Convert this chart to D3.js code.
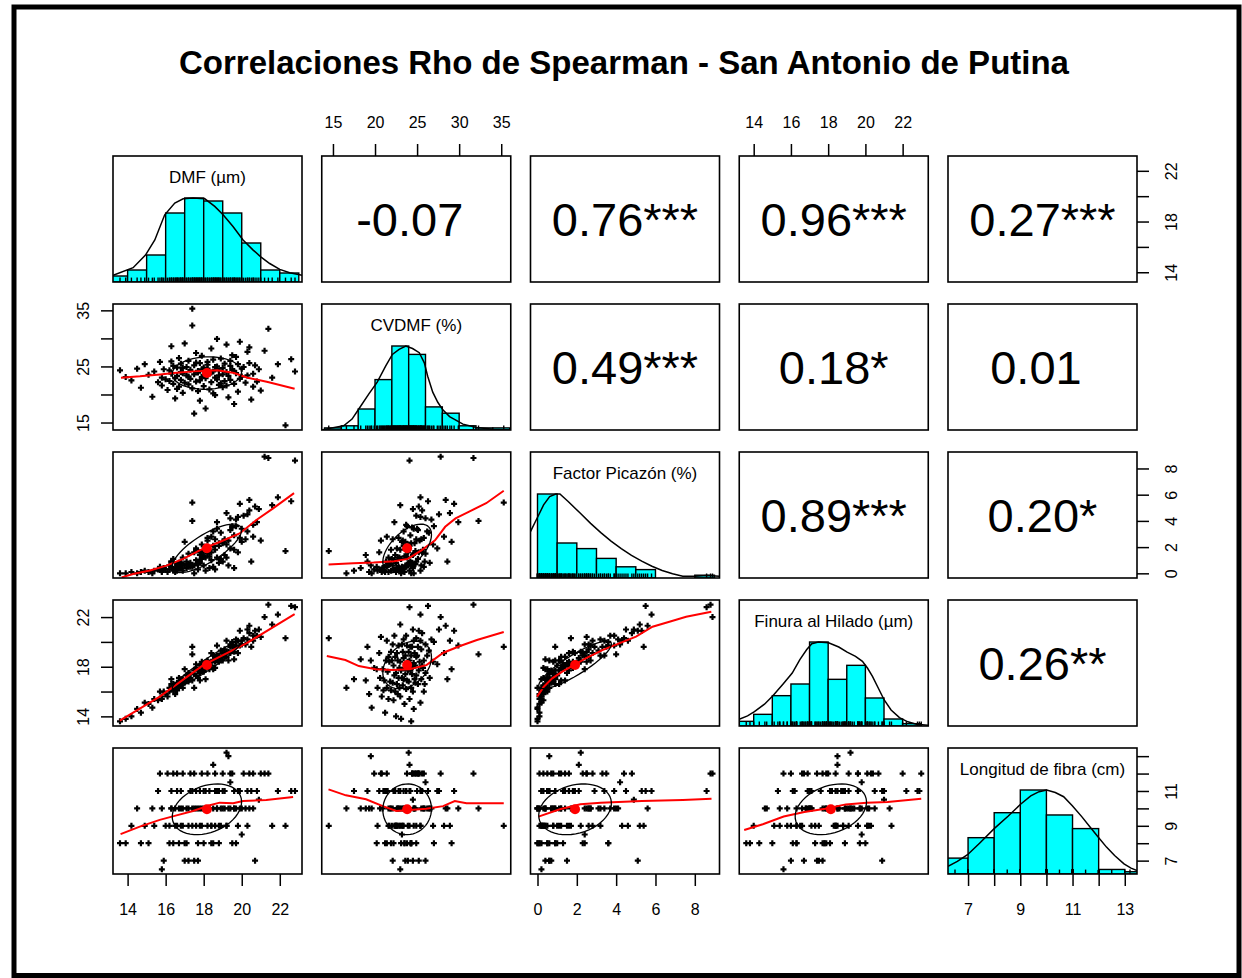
<!DOCTYPE html>
<html>
<head>
<meta charset="utf-8">
<script src="https://cdn.jsdelivr.net/npm/d3@7"></script>
<style>
  body { margin: 0; background: #fff; }
  svg text { font-family: "Liberation Sans", Arial, sans-serif; fill: #000; }
</style>
</head>
<body>
<svg id="chart" width="1242" height="978"></svg>
<script>
// ---- data ----
var varNames = ["DMF (\u00b5m)", "CVDMF (%)", "Factor Picaz\u00f3n (%)", "Finura al Hilado (\u00b5m)", "Longitud de fibra (cm)"];

var dmf = [13.6,13.9,14.2,14.5,14.7,14.9,15.1,15.3,15.4,15.6,15.7,15.8,15.8,15.9,16.0,16.1,16.2,16.2,16.3,16.3,
  16.4,16.4,16.5,16.5,16.6,16.6,16.7,16.7,16.8,16.8,16.8,16.9,16.9,16.9,17.0,17.0,16.3,16.6,17.1,17.1,
  17.2,17.2,17.3,17.3,17.4,17.4,17.5,17.5,17.5,17.6,17.6,17.7,17.7,17.7,17.8,17.8,17.8,17.9,17.9,17.9,
  18.0,18.0,18.0,17.4,17.6,17.2,18.1,18.1,18.2,18.2,18.3,18.3,18.4,18.4,18.5,18.5,18.6,18.6,18.6,18.7,
  18.7,18.7,18.8,18.8,18.8,18.9,18.9,19.0,19.0,19.0,18.2,18.4,18.5,19.1,19.1,19.2,19.2,19.3,19.3,19.4,
  19.4,19.5,19.5,19.6,19.6,19.7,19.7,19.8,19.8,19.9,19.9,20.0,20.0,19.2,19.4,19.6,20.1,20.2,20.3,20.3,
  20.4,20.4,20.5,20.6,20.6,20.7,20.8,20.9,21.0,21.2,21.4,21.6,21.9,22.3,22.6,22.8];

var cvdmf = [24.3,23.1,22.5,24.6,21.2,25.4,23.5,19.6,24.1,22.2,25.8,23.0,21.6,24.5,22.7,20.8,24.3,22.4,28.6,23.7,
  21.9,25.1,22.9,19.3,24.8,23.3,26.5,21.4,24.0,22.6,25.5,20.3,23.8,24.7,22.1,29.1,25.9,21.0,23.4,24.9,
  26.0,21.8,22.8,24.4,35.3,32.3,16.6,23.6,25.2,22.3,27.4,24.2,20.6,23.9,25.6,22.5,18.9,24.5,23.1,26.9,
  21.5,24.8,23.5,21.1,25.7,23.2,22.9,17.5,24.6,25.3,20.9,23.7,28.2,22.2,24.1,26.2,23.0,19.9,24.9,22.7,
  25.0,29.9,21.7,24.3,23.4,26.4,22.0,24.7,23.6,21.3,25.8,23.9,20.2,25.5,22.4,24.0,28.9,23.3,19.5,25.1,
  22.6,24.4,27.0,21.9,24.2,23.8,26.7,20.5,25.4,22.8,29.4,23.2,24.6,21.6,26.0,18.3,24.9,22.1,27.6,23.4,
  28.4,25.6,19.1,23.7,21.4,25.2,22.3,24.5,20.7,27.8,31.7,23.0,25.4,14.5,26.3,24.1];

var factor = [0.0,0.0,0.1,0.0,0.1,0.2,0.1,0.0,0.2,0.3,0.5,0.2,0.1,0.4,0.3,0.1,0.6,0.3,0.9,0.5,
  0.2,1.1,0.4,0.1,0.7,0.3,0.8,0.5,0.8,0.4,0.6,0.2,1.2,0.7,0.6,2.4,0.9,0.2,0.4,0.9,
  1.5,0.7,0.5,0.8,5.4,4.0,0.0,0.6,1.6,1.0,1.9,0.9,0.3,0.7,1.6,0.8,1.4,1.4,1.1,2.2,
  0.6,1.7,1.3,0.5,1.8,0.5,1.2,0.2,1.5,2.5,0.4,1.3,2.8,1.0,2.1,3.2,1.8,0.3,2.6,1.2,
  3.4,3.9,0.8,2.3,2.1,3.1,1.1,2.3,2.4,0.9,2.7,1.6,0.5,2.6,1.4,2.2,4.6,2.5,0.6,3.3,
  1.9,3.5,3.6,1.8,2.9,3.6,4.1,1.6,4.3,2.7,5.3,2.4,3.4,1.2,4.2,0.4,4.4,2.6,4.5,3.2,
  5.6,4.8,0.9,3.7,2.8,5.1,3.9,4.9,2.5,8.9,8.8,5.2,5.8,1.7,5.5,8.6];

var finura = [13.6,13.8,14.0,14.6,14.3,15.1,15.0,14.7,15.4,15.3,16.0,15.6,15.4,16.0,15.8,15.6,16.3,16.0,17.0,16.2,
  16.1,16.6,16.3,15.8,16.7,16.5,17.1,16.3,16.8,16.6,17.0,16.3,16.9,17.0,16.7,17.8,16.6,16.1,17.0,17.3,
  17.5,16.8,17.1,17.4,19.6,19.0,16.3,17.4,17.7,17.3,18.2,17.7,17.1,17.7,18.1,17.5,16.9,18.0,17.7,18.4,
  17.6,18.1,17.9,16.9,17.9,17.1,17.9,17.0,18.3,18.4,17.8,18.2,19.1,18.1,18.5,18.9,18.4,17.9,18.8,18.5,
  18.9,19.7,18.4,18.9,18.7,19.3,18.5,19.1,18.9,18.5,18.5,18.4,17.8,19.4,18.8,19.2,20.1,19.2,18.5,19.6,
  19.1,19.6,20.0,19.2,19.6,19.7,20.2,19.1,20.1,19.7,20.9,19.8,20.1,18.8,19.8,18.6,20.3,19.8,21.0,20.2,
  21.3,20.7,19.6,20.5,20.1,20.9,20.5,21.0,20.4,22.0,23.0,21.4,22.2,20.3,22.9,22.8];

var longitud = [8,8,9,10,8,9,8,10,9,11,12,6.5,10,7,9,12,8,9,10,11,
  8,12,9,10,12,9,10,8,10,9,11,9,12,10,7,8,10,11,10,8,
  7,10,11,12,9,10,10,7,12,9,11,8,10,7,11,9,10,12,10,9,
  11,10,8,11,10,9,10,11,9,12,10,11,9,8,12.5,10,11,12,9,10,
  11,10,9,8,11,10,9,12,10,11,10,9,8,10,11,13.2,9,10,13,12,
  10,12,8,10,11,8,10,11,9,10,11,8.5,10,9,11.5,10,12,10,11,9,
  10,12,11,10,12,7,11,10.5,12,12,12,9,11,9,11,11];

// histogram bins (breaks) and counts
var dmfBreaks = [13,14,15,16,17,18,19,20,21,22,23];
var dmfCounts = [2,4,9,23,28,27,23,13,4,3];
var cvBreaks = [14,16,18,20,22,24,26,28,30,32,34,36];
var cvCounts = [1,2,10,24,40,36,11,8,2,1,1];
var factorBreaks = [0,1,2,3,4,5,6,7,8,9];
var factorCounts = [60,25,21,14,8,6,0,0,2];
var finuraBreaks = [13,14,15,16,17,18,19,20,21,22,23];
var finuraCounts = [2,5,13,18,36,20,26,12,3,1];
var longBreaks = [6,7,8,9,10,11,12,13,14];
var longCounts = [7,16,27,37,26,20,2,1];

// density curves, [value, height relative to max]
var densDmf = [[13.24,0.08],[14.29,0.17],[14.94,0.32],[15.43,0.50],[15.95,0.80],[16.48,0.94],[16.92,0.99],[17.44,1.00],
  [18.06,0.99],[18.58,0.90],[19.02,0.80],[19.54,0.66],[20.07,0.50],[20.60,0.38],[21.00,0.30],[21.47,0.22],[22.00,0.15],
  [22.52,0.11],[22.98,0.09],[23.17,0.08]];
var densCv = [[13.7,0.0],[14.07,0.01],[16.27,0.05],[17.27,0.13],[18.07,0.25],[19.27,0.43],[20.26,0.57],[21.26,0.76],[22.06,0.90],
  [22.86,0.96],[23.66,1.0],[24.46,0.97],[25.26,0.92],[25.86,0.80],[26.26,0.64],[26.86,0.45],[27.46,0.33],[28.06,0.24],
  [28.86,0.16],[30.45,0.07],[32.05,0.03],[34.05,0.01],[36.05,0.0]];
var densFactor = [[-0.36,0.55],[-0.32,0.57],[-0.11,0.67],[0.06,0.75],[0.31,0.87],[0.62,0.97],[0.93,1.00],[1.14,1.00],[1.56,0.91],
  [2.18,0.77],[2.70,0.65],[3.22,0.54],[3.74,0.44],[4.26,0.35],[4.78,0.27],[5.30,0.20],[5.82,0.14],[6.34,0.09],[6.87,0.05],
  [7.39,0.02],[8.01,0.02],[8.64,0.03],[9.26,0.02]];
var densFinura = [[13.22,0.08],[13.67,0.12],[14.04,0.17],[14.58,0.26],[15.03,0.36],[15.58,0.50],[16.07,0.63],[16.48,0.79],
  [16.85,0.91],[17.12,0.98],[17.48,1.00],[18.02,0.99],[18.57,0.94],[19.02,0.88],[19.47,0.83],[19.84,0.77],[20.11,0.69],
  [20.38,0.59],[20.65,0.47],[21.01,0.31],[21.38,0.19],[21.83,0.10],[22.28,0.05],[22.74,0.02],[23.37,0.01]];
var densLong = [[6.23,0.09],[6.59,0.15],[6.98,0.23],[7.45,0.37],[8.00,0.54],[8.54,0.69],[9.01,0.83],[9.40,0.93],[9.72,0.98],
  [10.01,1.00],[10.34,0.97],[10.66,0.92],[11.00,0.81],[11.36,0.68],[11.67,0.56],[11.98,0.44],[12.30,0.32],[12.61,0.22],
  [12.97,0.12],[13.24,0.07],[13.47,0.04]];

// red smoother lines, [x, y] in data units
var lowCvDmf = [[13.65,22.99],[14.65,23.23],[15.71,23.58],[16.42,23.82],[17.48,24.12],[18.72,24.30],[19.60,23.82],[20.31,22.99],[21.37,22.21],[22.78,21.02]];
var lowFpDmf = [[13.68,-0.31],[14.29,-0.05],[15.17,0.21],[16.04,0.59],[16.92,1.10],[17.97,1.88],[18.84,2.39],[19.89,3.04],[20.77,4.07],[21.65,4.96],[22.75,6.12]];
var lowFpCv = [[14.48,0.67],[17.40,0.77],[19.83,0.82],[22.27,0.93],[23.89,1.10],[25.51,1.75],[27.13,2.52],[28.34,3.55],[29.57,4.19],[31.19,4.71],[33.21,5.35],[35.3,6.3]];
var lowFhDmf = [[13.59,13.65],[15.69,15.59],[17.97,18.13],[20.24,19.88],[22.78,22.24]];
var lowFhCv = [[14.27,18.86],[16.48,18.54],[18.08,18.05],[20.09,17.79],[22.09,17.73],[24.09,17.79],[26.11,18.13],[28.11,19.13],[30.11,19.67],[32.11,20.15],[35.3,20.8]];
var lowFhFp = [[-0.02,15.59],[0.32,16.39],[0.75,17.06],[1.26,17.60],[1.85,18.13],[2.45,18.67],[3.30,19.34],[4.15,19.88],[5.01,20.42],[5.85,21.22],[6.71,21.62],[7.56,22.03],[8.84,22.43]];
var lowLfDmf = [[13.63,8.52],[14.64,8.95],[15.69,9.34],[16.57,9.60],[17.44,9.85],[18.32,10.18],[18.84,10.33],[19.55,10.29],[20.07,10.42],[21.29,10.48],[22.70,10.65]];
var lowLfCv = [[14.47,11.09],[16.54,10.75],[18.93,10.52],[20.92,10.13],[22.52,9.85],[24.12,9.91],[26.09,9.98],[28.09,10.13],[29.48,10.42],[30.87,10.29],[35.3,10.29]];
var lowLfFp = [[0.05,9.53],[1.14,9.95],[2.18,10.24],[3.22,10.33],[5.31,10.42],[7.39,10.48],[8.85,10.55]];
var lowLfFh = [[13.49,8.76],[14.49,9.09],[15.61,9.53],[16.72,9.79],[17.84,9.98],[18.95,10.23],[20.07,10.33],[21.19,10.36],[23.0,10.55]];

// upper panels: Spearman rho with stars (row, col)
var corrText = [
  [0, 1, "-0.07 "], [0, 2, "0.76***"], [0, 3, "0.96***"], [0, 4, "0.27***"],
  [1, 2, "0.49***"], [1, 3, "0.18*"], [1, 4, "0.01 "],
  [2, 3, "0.89***"], [2, 4, "0.20*"],
  [3, 4, "0.26**"]
];

// axis ticks and which of them carry a label
var ticksDmf = [14,16,18,20,22], ticksCv = [15,20,25,30,35], ticksFp = [0,2,4,6,8],
    ticksFh = [14,16,18,20,22], ticksLf = [7,8,9,10,11,12,13];
var labDmfBottom = [14,16,18,20,22], labDmfRight = [14,18,22];
var labCvTop = [15,20,25,30,35], labCvLeft = [15,25,35];
var labFpBottom = [0,2,4,6,8], labFpRight = [0,2,4,6,8];
var labFhTop = [14,16,18,20,22], labFhLeft = [14,18,22];
var labLfBottom = [7,9,11,13], labLfRight = [7,9,11];

var titleText = "Correlaciones Rho de Spearman - San Antonio de Putina";

// ---- layout ----
var svg = d3.select("#chart");
var left0 = 113, colStep = 208.75, panelW = 189;
var top0 = 156, rowStep = 148, panelH = 126;

var vars = [dmf, cvdmf, factor, finura, longitud];
var hists = [[dmfBreaks, dmfCounts], [cvBreaks, cvCounts], [factorBreaks, factorCounts],
             [finuraBreaks, finuraCounts], [longBreaks, longCounts]];
var dens = [densDmf, densCv, densFactor, densFinura, densLong];
var lowess = {"1,0": lowCvDmf, "2,0": lowFpDmf, "2,1": lowFpCv, "3,0": lowFhDmf, "3,1": lowFhCv,
              "3,2": lowFhFp, "4,0": lowLfDmf, "4,1": lowLfCv, "4,2": lowLfFp, "4,3": lowLfFh};

// R style: data range plus 4% each side
function dom(v) {
  var e = d3.extent(v), pad = (e[1] - e[0]) * 0.04;
  return [e[0] - pad, e[1] + pad];
}
var sx = vars.map(function(v) { return d3.scaleLinear().domain(dom(v)).range([0, panelW]); });
var sy = vars.map(function(v) { return d3.scaleLinear().domain(dom(v)).range([panelH, 0]); });
var yHist = d3.scaleLinear().domain([0, 1.5]).range([panelH, 0]);

// outer frame
svg.append("rect").attr("x", 14).attr("y", 7).attr("width", 1225).attr("height", 968.5)
  .attr("fill", "none").attr("stroke", "#000").attr("stroke-width", 5);

svg.append("text").attr("x", 624).attr("y", 74).attr("text-anchor", "middle")
  .attr("font-size", 33).attr("font-weight", "bold").text(titleText);

function pearson(a, b) {
  var ma = d3.mean(a), mb = d3.mean(b), s = 0, sa = 0, sb = 0;
  for (var k = 0; k < a.length; k++) {
    s += (a[k] - ma) * (b[k] - mb); sa += (a[k] - ma) * (a[k] - ma); sb += (b[k] - mb) * (b[k] - mb);
  }
  return s / Math.sqrt(sa * sb);
}

var plus = "M-3,0H3M0,-3V3";

for (var i = 0; i < 5; i++) {
  for (var j = 0; j < 5; j++) {
    var px = left0 + j * colStep, py = top0 + i * rowStep;
    var g = svg.append("g").attr("transform", "translate(" + px + "," + py + ")");
    var cid = "clip" + i + j;
    g.append("clipPath").attr("id", cid).append("rect").attr("width", panelW).attr("height", panelH);
    var inner = g.append("g").attr("clip-path", "url(#" + cid + ")");

    if (i === j) {
      var br = hists[i][0], ct = hists[i][1], mx = d3.max(ct);
      var bins = ct.map(function(c, k) { return {x0: br[k], x1: br[k + 1], h: c / mx}; });
      inner.selectAll("rect.bar").data(bins).enter().append("rect")
        .attr("x", function(d) { return sx[i](d.x0); })
        .attr("width", function(d) { return sx[i](d.x1) - sx[i](d.x0); })
        .attr("y", function(d) { return yHist(d.h); })
        .attr("height", function(d) { return panelH - yHist(d.h); })
        .attr("fill", "#00ffff").attr("stroke", "#000").attr("stroke-width", 1.4);
      inner.append("path").datum(dens[i])
        .attr("d", d3.line().x(function(d) { return sx[i](d[0]); }).y(function(d) { return yHist(d[1]); }))
        .attr("fill", "none").attr("stroke", "#000").attr("stroke-width", 1.5);
      inner.selectAll("line.rug").data(vars[i]).enter().append("line")
        .attr("x1", function(d) { return sx[i](d); }).attr("x2", function(d) { return sx[i](d); })
        .attr("y1", panelH).attr("y2", panelH - 0.035 * panelH)
        .attr("stroke", "#000").attr("stroke-width", 1.4);
      g.append("text").attr("x", panelW / 2).attr("y", 27)
        .attr("text-anchor", "middle").attr("font-family", "DejaVu Sans")
        .attr("font-size", 17).text(varNames[i]);
    } else if (i > j) {
      var xs = vars[j], ys = vars[i];
      inner.selectAll("path.pt").data(xs).enter().append("path")
        .attr("d", plus)
        .attr("transform", function(d, k) { return "translate(" + sx[j](d) + "," + sy[i](ys[k]) + ")"; })
        .attr("stroke", "#000").attr("stroke-width", 2.2);
      inner.append("path").datum(lowess[i + "," + j])
        .attr("d", d3.line().x(function(d) { return sx[j](d[0]); }).y(function(d) { return sy[i](d[1]); }))
        .attr("fill", "none").attr("stroke", "#ff0000").attr("stroke-width", 2);
      // correlation ellipse at one sd (as psych::pairs.panels)
      var xm = d3.mean(xs), ym = d3.mean(ys), xsd = d3.deviation(xs), ysd = d3.deviation(ys);
      var r = pearson(xs, ys), th = 1 / Math.SQRT2;
      var ell = d3.range(52).map(function(k) {
        var a = k * 2 * Math.PI / 51;
        var ex = th * (Math.sqrt(1 + r) * Math.cos(a) - Math.sqrt(1 - r) * Math.sin(a));
        var ey = th * (Math.sqrt(1 + r) * Math.cos(a) + Math.sqrt(1 - r) * Math.sin(a));
        return [xm + ex * xsd, ym + ey * ysd];
      });
      inner.append("path").datum(ell)
        .attr("d", d3.line().x(function(d) { return sx[j](d[0]); }).y(function(d) { return sy[i](d[1]); }))
        .attr("fill", "none").attr("stroke", "#000").attr("stroke-width", 1.3);
      inner.append("circle").attr("cx", sx[j](xm)).attr("cy", sy[i](ym)).attr("r", 5).attr("fill", "#ff0000");
    }
    g.append("rect").attr("width", panelW).attr("height", panelH)
      .attr("fill", "none").attr("stroke", "#000").attr("stroke-width", 1.6);
  }
}

corrText.forEach(function(c) {
  var px = left0 + c[1] * colStep, py = top0 + c[0] * rowStep;
  svg.append("text").attr("x", px + panelW / 2).attr("y", py + panelH / 2 + 17)
    .attr("text-anchor", "middle").attr("font-size", 47).attr("xml:space", "preserve")
    .text(c[2]);
});

// ---- axes ----
function drawAxis(orient, idx, pos, ticks, labels) {
  var s = (orient === "top" || orient === "bottom") ? sx[idx] : sy[idx];
  var gen = {top: d3.axisTop, bottom: d3.axisBottom, left: d3.axisLeft, right: d3.axisRight}[orient](s)
    .tickValues(ticks).tickSize(12)
    .tickPadding(orient === "top" ? 16.5 : 17.3)
    .tickFormat(function(d) { return labels.indexOf(d) >= 0 ? String(d) : ""; });
  var tx = 0, ty = 0;
  if (orient === "top") { tx = left0 + pos * colStep; ty = top0; }
  if (orient === "bottom") { tx = left0 + pos * colStep; ty = top0 + 4 * rowStep + panelH; }
  if (orient === "left") { tx = left0; ty = top0 + pos * rowStep; }
  if (orient === "right") { tx = left0 + 4 * colStep + panelW; ty = top0 + pos * rowStep; }
  var ag = svg.append("g").attr("transform", "translate(" + tx + "," + ty + ")").call(gen);
  ag.select(".domain").remove();
  ag.selectAll(".tick line").attr("stroke", "#000").attr("stroke-width", 1.5);
  ag.selectAll(".tick text").attr("font-size", 16).attr("fill", "#000")
    .attr("font-family", "Liberation Sans, Arial, sans-serif");
  if (orient === "left" || orient === "right") {
    ag.selectAll(".tick text")
      .attr("transform", "rotate(-90)").attr("text-anchor", "middle")
      .attr("x", 0).attr("dy", null)
      .attr("y", orient === "left" ? -24.5 : 40);
  }
}
drawAxis("top", 1, 1, ticksCv, labCvTop);
drawAxis("top", 3, 3, ticksFh, labFhTop);
drawAxis("bottom", 0, 0, ticksDmf, labDmfBottom);
drawAxis("bottom", 2, 2, ticksFp, labFpBottom);
drawAxis("bottom", 4, 4, ticksLf, labLfBottom);
drawAxis("left", 1, 1, ticksCv, labCvLeft);
drawAxis("left", 3, 3, ticksFh, labFhLeft);
drawAxis("right", 0, 0, ticksDmf, labDmfRight);
drawAxis("right", 2, 2, ticksFp, labFpRight);
drawAxis("right", 4, 4, ticksLf, labLfRight);
</script>
</body>
</html>
